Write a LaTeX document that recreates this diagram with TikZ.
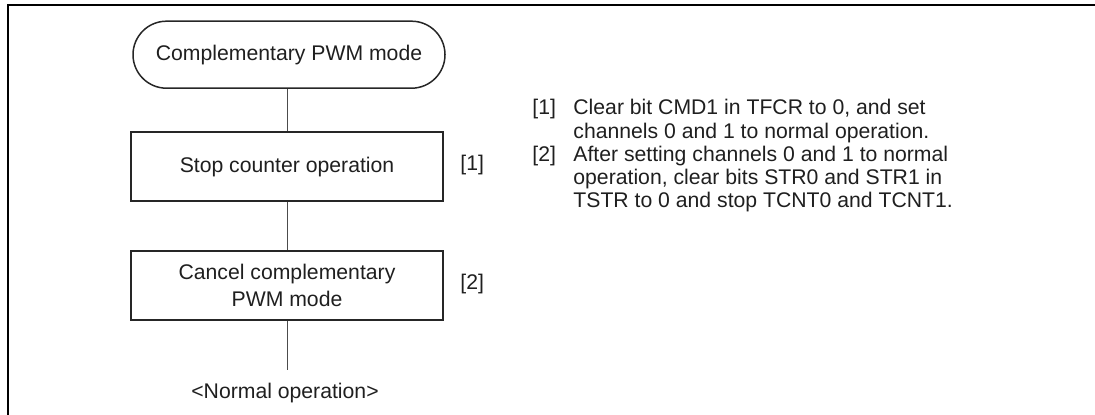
\documentclass[tikz,border=0pt]{standalone}
\usepackage{fontspec}
\setmainfont{Liberation Sans}
\usetikzlibrary{shapes.misc}
\begin{document}
\begin{tikzpicture}[x=0.5pt,y=-0.5pt,
  every node/.style={font=\fontsize{10.6pt}{13.3pt}\selectfont, text=black!88},
  frame/.style={line width=1pt, black},
  term/.style={rounded rectangle, draw=black!85, line width=0.75pt, minimum width=156pt, minimum height=33.5pt, inner sep=0pt},
  proc/.style={rectangle, draw=black!85, line width=0.75pt, minimum width=156pt, minimum height=34.5pt, inner sep=0pt, align=center},
  conn/.style={draw=black!70, line width=0.5pt},
  txt/.style={anchor=base west, inner sep=0pt}]
\useasboundingbox (0,0) rectangle (1095,415);
\draw[frame] (7.5,415) -- (7.5,5) -- (1095,5);
\node[term] (t) at (289,54.7) {Complementary PWM mode};
\node[proc] (s1) at (287,166.7) {Stop counter operation};
\node[proc] (s2) at (287,285.5) {Cancel complementary\\PWM mode};
\coordinate (e) at (287,370);
\node (n) at (285,393) {<Normal operation>};
\node[txt] (l1) at (460,171) {[1]};
\node[txt] (l2) at (460,289.5) {[2]};
\draw[conn] (t.south -| s1.north) -- (s1.north);
\draw[conn] (s1.south) -- (s2.north);
\draw[conn] (s2.south) -- (e);
\node[txt] (a1) at (532,115) {[1]};
\node[txt] (a1a) at (573,115) {Clear bit CMD1 in TFCR to 0, and set};
\node[txt] (a1b) at (573,138.5) {channels 0 and 1 to normal operation.};
\node[txt] (a2) at (532,162) {[2]};
\node[txt] (a2a) at (573,162) {After setting channels 0 and 1 to normal};
\node[txt] (a2b) at (573,185) {operation, clear bits STR0 and STR1 in};
\node[txt] (a2c) at (573,207.5) {TSTR to 0 and stop TCNT0 and TCNT1.};
\end{tikzpicture}
\end{document}
